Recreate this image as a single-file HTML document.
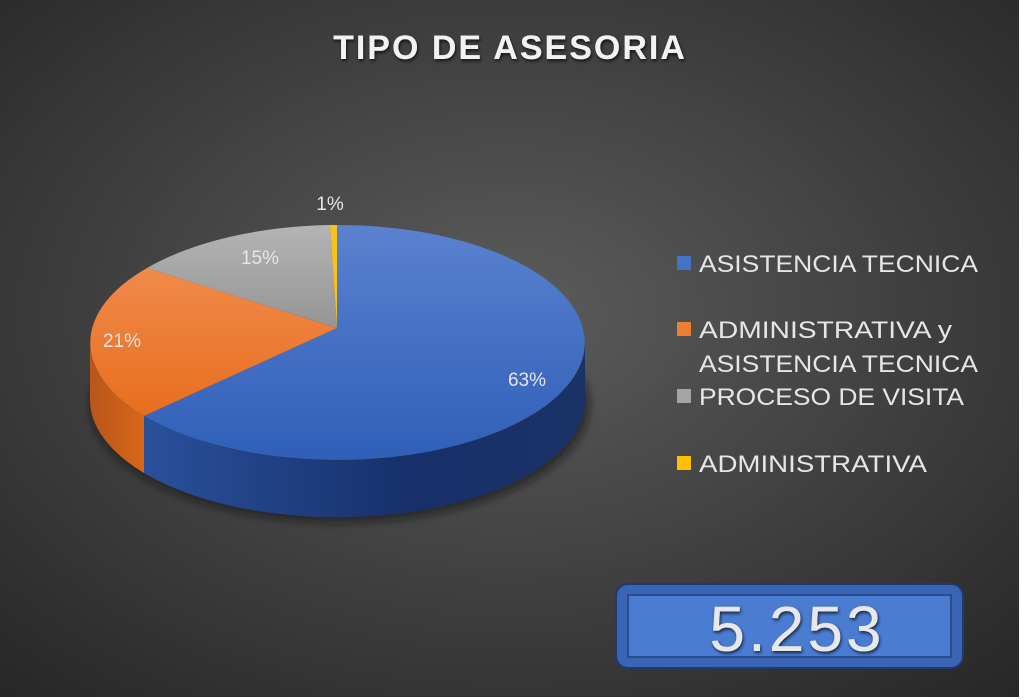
<!DOCTYPE html>
<html><head><meta charset="utf-8"><style>
html,body{margin:0;padding:0;background:#fff;width:1024px;height:700px;overflow:hidden}
svg{display:block}
</style></head><body>
<svg width="1024" height="700" viewBox="0 0 1024 700" xmlns="http://www.w3.org/2000/svg">
<defs>
<radialGradient id="bg" cx="50%" cy="45%" r="75%">
<stop offset="0" stop-color="#5c5c5c"/><stop offset="1" stop-color="#262626"/>
</radialGradient>
<linearGradient id="blueTop" x1="0" y1="0" x2="0" y2="1">
<stop offset="0" stop-color="#5a82cf"/><stop offset="1" stop-color="#2f5fb8"/>
</linearGradient>
<linearGradient id="orTop" x1="0" y1="0" x2="0" y2="1">
<stop offset="0" stop-color="#f08a4a"/><stop offset="1" stop-color="#e86e1e"/>
</linearGradient>
<linearGradient id="grTop" x1="0" y1="0" x2="0" y2="1">
<stop offset="0" stop-color="#b4b4b4"/><stop offset="1" stop-color="#959595"/>
</linearGradient>
<linearGradient id="blueSide" x1="0" y1="0" x2="1" y2="0">
<stop offset="0" stop-color="#2a509c"/><stop offset="0.6" stop-color="#17306a"/><stop offset="1" stop-color="#1a3266"/>
</linearGradient>
<linearGradient id="orSide" x1="0" y1="0" x2="1" y2="0">
<stop offset="0" stop-color="#b8551a"/><stop offset="1" stop-color="#d86818"/>
</linearGradient>
<filter id="sh" x="-10%" y="-10%" width="120%" height="130%"><feGaussianBlur stdDeviation="4"/></filter>
<filter id="ts"><feDropShadow dx="1" dy="2" stdDeviation="1.5" flood-color="#000" flood-opacity="0.7"/></filter>
</defs>
<rect x="0" y="0" width="1019" height="697" fill="url(#bg)"/>
<text x="510" y="59" text-anchor="middle" font-family="Liberation Sans, sans-serif" font-weight="bold" font-size="34" letter-spacing="2" fill="#f2f2f2" filter="url(#ts)">TIPO DE ASESORIA</text>
<ellipse cx="340" cy="405" rx="250" ry="118" fill="#111" opacity="0.5" filter="url(#sh)"/>
<path d="M144,416 A247.5,117.5 0 0 0 585,342.5 L585,399.5 A247.5,117.5 0 0 1 144,473 Z" fill="url(#blueSide)"/>
<path d="M90,342.5 A247.5,117.5 0 0 0 144,416 L144,473 A247.5,117.5 0 0 1 90,399.5 Z" fill="url(#orSide)"/>
<path d="M337,328 L337,225 A247.5,117.5 0 1 1 144,416 Z" fill="url(#blueTop)"/>
<path d="M337,328 L144,416 A247.5,117.5 0 0 1 147,268 Z" fill="url(#orTop)"/>
<path d="M337,328 L147,268 A247.5,117.5 0 0 1 330,225 Z" fill="url(#grTop)"/>
<path d="M337,328 L330,225 A247.5,117.5 0 0 1 337,225 Z" fill="#f6c21c"/>
<g font-family="Liberation Sans, sans-serif" font-size="19" fill="#e6e6e6">
<text x="330" y="210" text-anchor="middle">1%</text>
<text x="260" y="264" text-anchor="middle">15%</text>
<text x="122" y="347" text-anchor="middle">21%</text>
<text x="527" y="386" text-anchor="middle">63%</text>
</g>
<rect x="677" y="256" width="14" height="14" fill="#4472c4"/>
<rect x="677" y="322" width="14" height="14" fill="#ed7d31"/>
<rect x="677" y="389" width="14" height="14" fill="#a5a5a5"/>
<rect x="677" y="456" width="14" height="14" fill="#ffc000"/>
<g font-family="Liberation Sans, sans-serif" font-size="24" fill="#e6e6e6">
<text x="699" y="272" textLength="279" lengthAdjust="spacingAndGlyphs">ASISTENCIA TECNICA</text>
<text x="699" y="338" textLength="253" lengthAdjust="spacingAndGlyphs">ADMINISTRATIVA y</text>
<text x="699" y="372" textLength="279" lengthAdjust="spacingAndGlyphs">ASISTENCIA TECNICA</text>
<text x="699" y="405" textLength="265" lengthAdjust="spacingAndGlyphs">PROCESO DE VISITA</text>
<text x="699" y="472" textLength="228" lengthAdjust="spacingAndGlyphs">ADMINISTRATIVA</text>
</g>
<rect x="616" y="584" width="347" height="84" rx="12" fill="#3a64b4" stroke="#1e3a70" stroke-width="2"/>
<rect x="628" y="595" width="323" height="62" fill="#4a7cd2" stroke="#2a4c8c" stroke-width="2"/>
<text x="797" y="651" text-anchor="middle" font-family="Liberation Sans, sans-serif" font-size="64" letter-spacing="3" fill="#e8e8e8" filter="url(#ts)">5.253</text>
</svg>
</body></html>
